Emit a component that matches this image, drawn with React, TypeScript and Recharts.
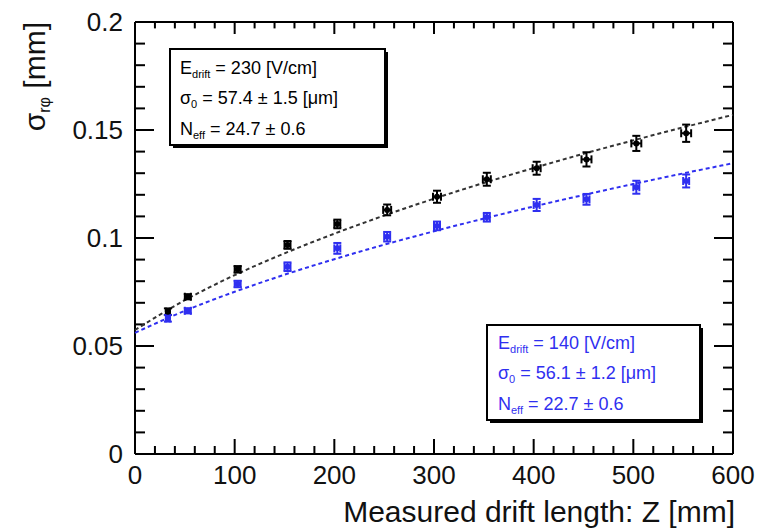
import { ComposedChart, Scatter, Line, XAxis, YAxis, ErrorBar, ReferenceLine } from "recharts";

// measured points (drift length in mm, sigma_rphi in mm)
const zPoints = [33, 53, 103, 153, 203, 253, 303, 353, 403, 453, 503, 553];
const sigma230 = [0.0659, 0.0728, 0.0855, 0.0968, 0.1065, 0.113, 0.1191, 0.1272, 0.1323, 0.1364, 0.1438, 0.1485];
const err230 = [0.0015, 0.0012, 0.0015, 0.0018, 0.002, 0.0025, 0.0028, 0.003, 0.003, 0.0033, 0.0035, 0.004];
const zErr230 = [2, 3, 3, 3, 3, 4, 4, 4, 4, 5, 5, 5];
const sigma140 = [0.0628, 0.0663, 0.0787, 0.0867, 0.0952, 0.1006, 0.1056, 0.1096, 0.1153, 0.1179, 0.1235, 0.1264];
const err140 = [0.0015, 0.0012, 0.0015, 0.002, 0.0025, 0.0022, 0.002, 0.002, 0.0028, 0.0025, 0.003, 0.003];
const zErr140 = [2, 3, 3, 3, 3, 3, 3, 3, 3, 3, 3, 3];

// fit curves
const fitZ = [0, 50, 100, 150, 200, 250, 300, 350, 400, 450, 500, 550, 600];
const fit230 = [0.0574, 0.0712, 0.0828, 0.0929, 0.102, 0.1104, 0.1182, 0.1255, 0.1324, 0.139, 0.1452, 0.1512, 0.157];
const fit140 = [0.0561, 0.0663, 0.0751, 0.083, 0.0902, 0.0969, 0.1031, 0.109, 0.1146, 0.1199, 0.125, 0.1299, 0.1346];

// all tick positions (major + minor); labels only on the majors
const xTicks = Array.from({ length: 31 }, (_, i) => i * 20);
const yTicks = Array.from({ length: 21 }, (_, i) => +(i * 0.01).toFixed(2));
const xMajorLabels = ["0", "100", "200", "300", "400", "500", "600"];
const yMajorLabels = ["0", "0.05", "0.1", "0.15", "0.2"];

const d230 = zPoints.map((x, i) => ({ x, y: sigma230[i], ey: err230[i], ex: zErr230[i] }));
const d140 = zPoints.map((x, i) => ({ x, y: sigma140[i], ey: err140[i], ex: zErr140[i] }));
const f230 = fitZ.map((x, i) => ({ x, y: fit230[i] }));
const f140 = fitZ.map((x, i) => ({ x, y: fit140[i] }));

const BLUE = "#2f2ff0";
const FONT = "'Liberation Sans', Arial, Helvetica, sans-serif";

// plot box, same as the chart margins + axis sizes below
const W = 758;
const H = 531;
const M = { top: 22, right: 25, bottom: 47, left: 65 };
const Y_AXIS_W = 70;
const X_AXIS_H = 30;
const PL = M.left + Y_AXIS_W;
const PT = M.top;
const PW = W - PL - M.right;
const PH = H - PT - M.bottom - X_AXIS_H;
const px = (v: number) => PL + (v / 600) * PW;
const py = (v: number) => PT + PH - (v / 0.2) * PH;

const dot = (color: string) => (p: any) => <circle cx={p.cx} cy={p.cy} r={3} fill={color} />;

const XTick = (p: any) => {
  const i = Math.round(p.payload.value / 20);
  if (i % 5 !== 0) return <g />;
  return (
    <text x={p.x} y={p.y + 30} textAnchor="middle" fontSize={26} fontFamily={FONT} fill="#111">
      {xMajorLabels[i / 5]}
    </text>
  );
};

const YTick = (p: any) => {
  const i = Math.round(p.payload.value * 100);
  if (i % 5 !== 0) return <g />;
  return (
    <text x={p.x - 12} y={p.y + 9} textAnchor="end" fontSize={26} fontFamily={FONT} fill="#111">
      {yMajorLabels[i / 5]}
    </text>
  );
};

// inward tick marks on all four frame sides
function FrameTicks() {
  const items: any[] = [];
  xTicks.forEach((v, i) => {
    const len = i % 5 === 0 ? 15 : 8;
    const x = px(v);
    items.push(<rect key={"xb" + i} x={x - 1} y={PT + PH - len} width={2} height={len} fill="#000" />);
    items.push(<rect key={"xt" + i} x={x - 1} y={PT} width={2} height={len * 0.8} fill="#000" />);
  });
  yTicks.forEach((v, i) => {
    const len = i % 5 === 0 ? 19 : 10;
    const y = py(v);
    items.push(<rect key={"yl" + i} x={PL} y={y - 1} width={len} height={2} fill="#000" />);
    items.push(<rect key={"yr" + i} x={PL + PW - len} y={y - 1} width={len} height={2} fill="#000" />);
  });
  return <g>{items}</g>;
}

export default function App() {
  return (
    <div style={{ position: "absolute", left: 0, top: 0, background: "#fff" }}>
      <ComposedChart width={W} height={H} margin={M}>
        <XAxis dataKey="x" type="number" domain={[0, 600]} ticks={xTicks} tickLine={false} axisLine={false}
          tickSize={0} tickMargin={0} height={X_AXIS_H} tick={XTick} interval={0} />
        <YAxis dataKey="y" type="number" domain={[0, 0.2]} ticks={yTicks} tickLine={false} axisLine={false}
          tickSize={0} tickMargin={0} width={Y_AXIS_W} tick={YTick} interval={0} />

        {/* frame */}
        <ReferenceLine x={0} stroke="#000" strokeWidth={2} />
        <ReferenceLine x={600} stroke="#000" strokeWidth={2} />
        <ReferenceLine y={0} stroke="#000" strokeWidth={2} />
        <ReferenceLine y={0.2} stroke="#000" strokeWidth={2} />

        <Line data={f230} dataKey="y" type="monotone" stroke="#333" strokeWidth={2} strokeDasharray="4 3"
          dot={false} activeDot={false} isAnimationActive={false} />
        <Line data={f140} dataKey="y" type="monotone" stroke={BLUE} strokeWidth={2} strokeDasharray="4 3"
          dot={false} activeDot={false} isAnimationActive={false} />

        <Scatter data={d230} dataKey="y" fill="#000" shape={dot("#000")} isAnimationActive={false}>
          <ErrorBar dataKey="ey" direction="y" width={4} stroke="#000" strokeWidth={2} isAnimationActive={false} />
          <ErrorBar dataKey="ex" direction="x" width={4} stroke="#000" strokeWidth={2} isAnimationActive={false} />
        </Scatter>
        <Scatter data={d140} dataKey="y" fill={BLUE} shape={dot(BLUE)} isAnimationActive={false}>
          <ErrorBar dataKey="ey" direction="y" width={4} stroke={BLUE} strokeWidth={2} isAnimationActive={false} />
          <ErrorBar dataKey="ex" direction="x" width={4} stroke={BLUE} strokeWidth={2} isAnimationActive={false} />
        </Scatter>

        <FrameTicks />

        {/* stat boxes */}
        <g fontFamily={FONT} fontSize={18}>
          <rect x={173} y={52} width={215} height={96} fill="#000" />
          <rect x={170} y={49} width={215} height={96} fill="#fff" stroke="#000" strokeWidth={2} />
          <text x={180} y={74} fill="#000">
            E<tspan fontSize={11} dy={4}>drift</tspan><tspan dy={-4}> = 230 [V/cm]</tspan>
          </text>
          <text x={180} y={104} fill="#000">
            σ<tspan fontSize={11} dy={4}>0</tspan><tspan dy={-4}>  = 57.4 ± 1.5 [μm]</tspan>
          </text>
          <text x={180} y={135} fill="#000">
            N<tspan fontSize={11} dy={4}>eff</tspan><tspan dy={-4}> = 24.7 ± 0.6</tspan>
          </text>

          <rect x={490} y={328} width={213} height={95} fill="#000" />
          <rect x={487} y={325} width={213} height={95} fill="#fff" stroke="#000" strokeWidth={2} />
          <text x={498} y={349} fill={BLUE}>
            E<tspan fontSize={11} dy={4}>drift</tspan><tspan dy={-4}> = 140 [V/cm]</tspan>
          </text>
          <text x={498} y={379} fill={BLUE}>
            σ<tspan fontSize={11} dy={4}>0</tspan><tspan dy={-4}>  = 56.1 ± 1.2 [μm]</tspan>
          </text>
          <text x={498} y={410} fill={BLUE}>
            N<tspan fontSize={11} dy={4}>eff</tspan><tspan dy={-4}> = 22.7 ± 0.6</tspan>
          </text>
        </g>

        {/* axis titles */}
        <text x={735} y={522} textAnchor="end" fontFamily={FONT} fontSize={30} fill="#111">
          Measured drift length: Z [mm]
        </text>
        <text x={45} y={22} textAnchor="end" transform="rotate(-90 45 22)" fontFamily={FONT} fontSize={30} fill="#111">
          σ<tspan fontSize={16} dy={5}>rφ</tspan><tspan dy={-5}> [mm]</tspan>
        </text>
      </ComposedChart>
    </div>
  );
}
